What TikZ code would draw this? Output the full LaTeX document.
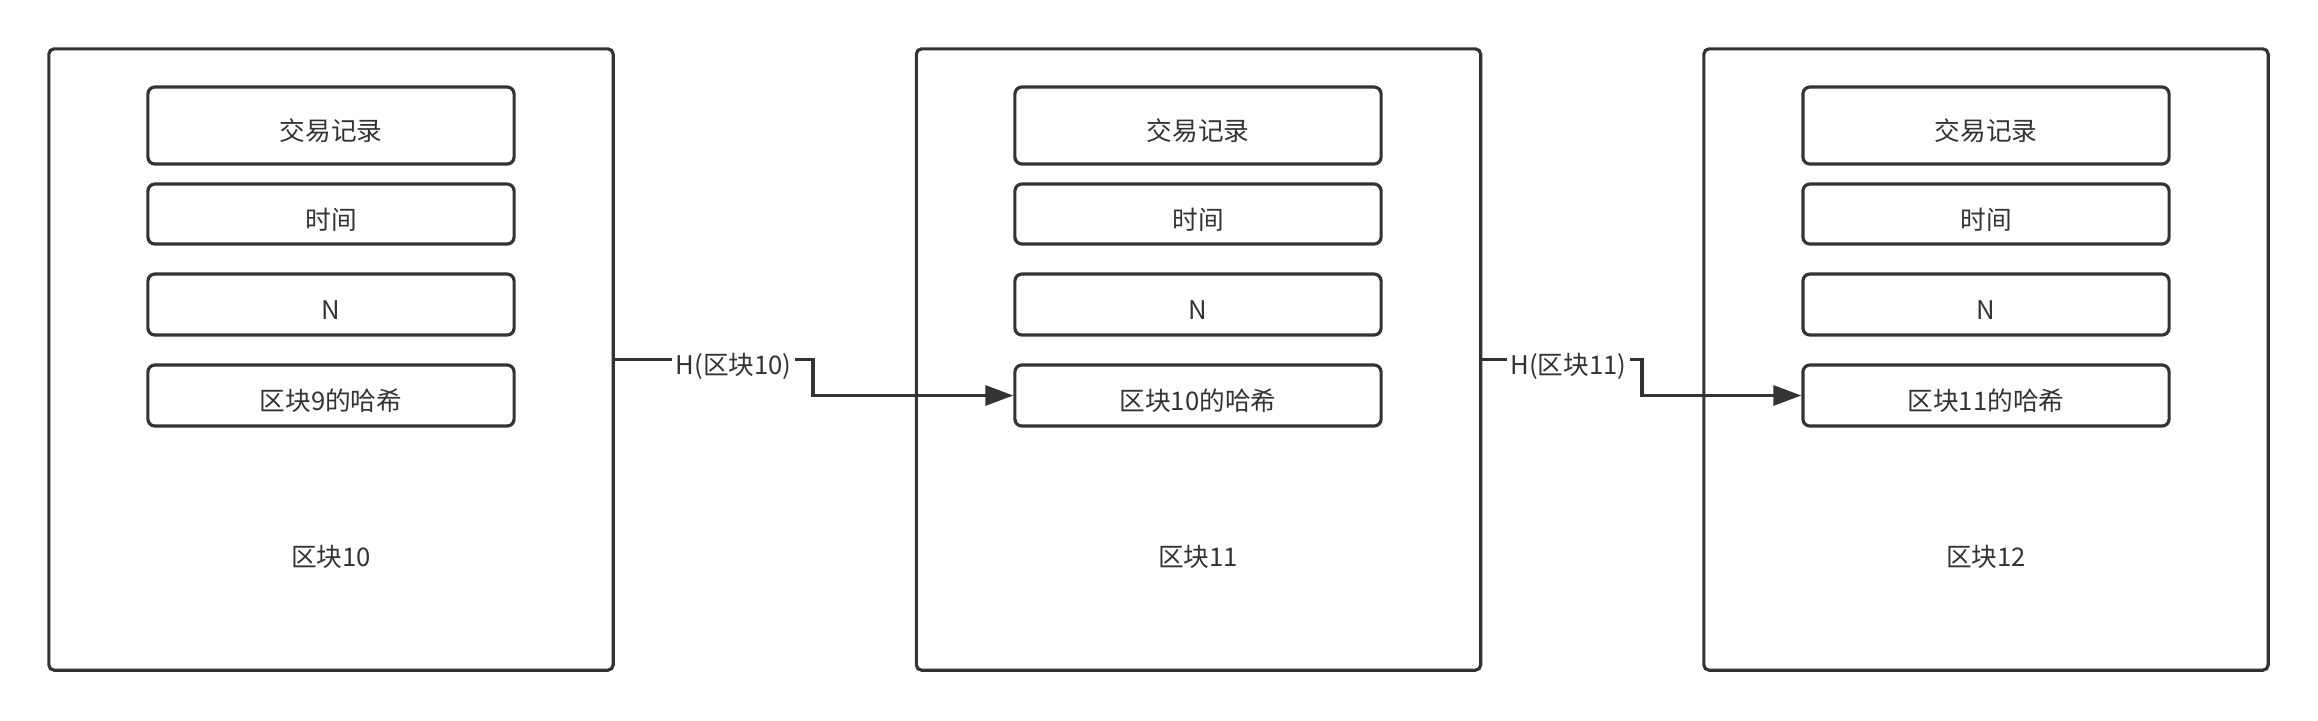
\documentclass[tikz,border=0pt]{standalone}
\usepackage{fontspec}
\newfontfamily\cjk{Noto Sans CJK SC}
\definecolor{darkgray}{RGB}{51,51,51}
\usepackage{tikz}
\usetikzlibrary{arrows.meta,positioning}

\begin{document}
\begin{tikzpicture}[x=0.01cm, y=-0.01cm,
    every node/.style={font=\cjk\fontsize{7.3pt}{9pt}\selectfont, text=darkgray},
    block/.style={draw=darkgray, line width=0.9pt, rounded corners=1.5pt, minimum width=5.64cm, minimum height=6.21cm},
    field/.style={draw=darkgray, line width=0.9pt, rounded corners=2pt, minimum width=3.66cm, minimum height=0.61cm, inner ysep=0pt, text height=9.5pt, text depth=0.9pt},
    conn/.style={darkgray, line width=0.9pt, -{Triangle[length=0.28cm,width=0.2cm]}},
    lbl/.style={fill=white, inner xsep=1pt, inner ysep=0pt, text height=9.5pt, text depth=0.9pt},
]
    \useasboundingbox (0,0) rectangle (2318,720);

    \node[block] (blk1) at (331,359.5) {};
    \node[block] (blk2) at (1198.5,359.5) {};
    \node[block] (blk3) at (1986,359.5) {};

    \node[field, minimum height=0.77cm] (tx1) at (331,125.5) {交易记录};
    \node[field, minimum height=0.6cm] (time1) at (331,214) {时间};
    \node[field] (n1) at (331,304.5) {N};
    \node[field] (hash1) at (331,395.5) {区块9的哈希};
    \node (name1) at (331,557) {区块10};

    \node[field, minimum height=0.77cm] (tx2) at (1198,125.5) {交易记录};
    \node[field, minimum height=0.6cm] (time2) at (1198,214) {时间};
    \node[field] (n2) at (1198,304.5) {N};
    \node[field] (hash2) at (1198,395.5) {区块10的哈希};
    \node (name2) at (1198,557) {区块11};

    \node[field, minimum height=0.77cm] (tx3) at (1986,125.5) {交易记录};
    \node[field, minimum height=0.6cm] (time3) at (1986,214) {时间};
    \node[field] (n3) at (1986,304.5) {N};
    \node[field] (hash3) at (1986,395.5) {区块11的哈希};
    \node (name3) at (1986,557) {区块12};

    \coordinate (bend1) at (813,359.5);
    \coordinate (bend2) at (1642,359.5);

    \draw[conn] (blk1.east) -- node[lbl, pos=0.6] {H(区块10)} (bend1) |- (hash2.west);
    \draw[conn] (blk2.east) -- node[lbl, pos=0.54] {H(区块11)} (bend2) |- (hash3.west);
\end{tikzpicture}
\end{document}
